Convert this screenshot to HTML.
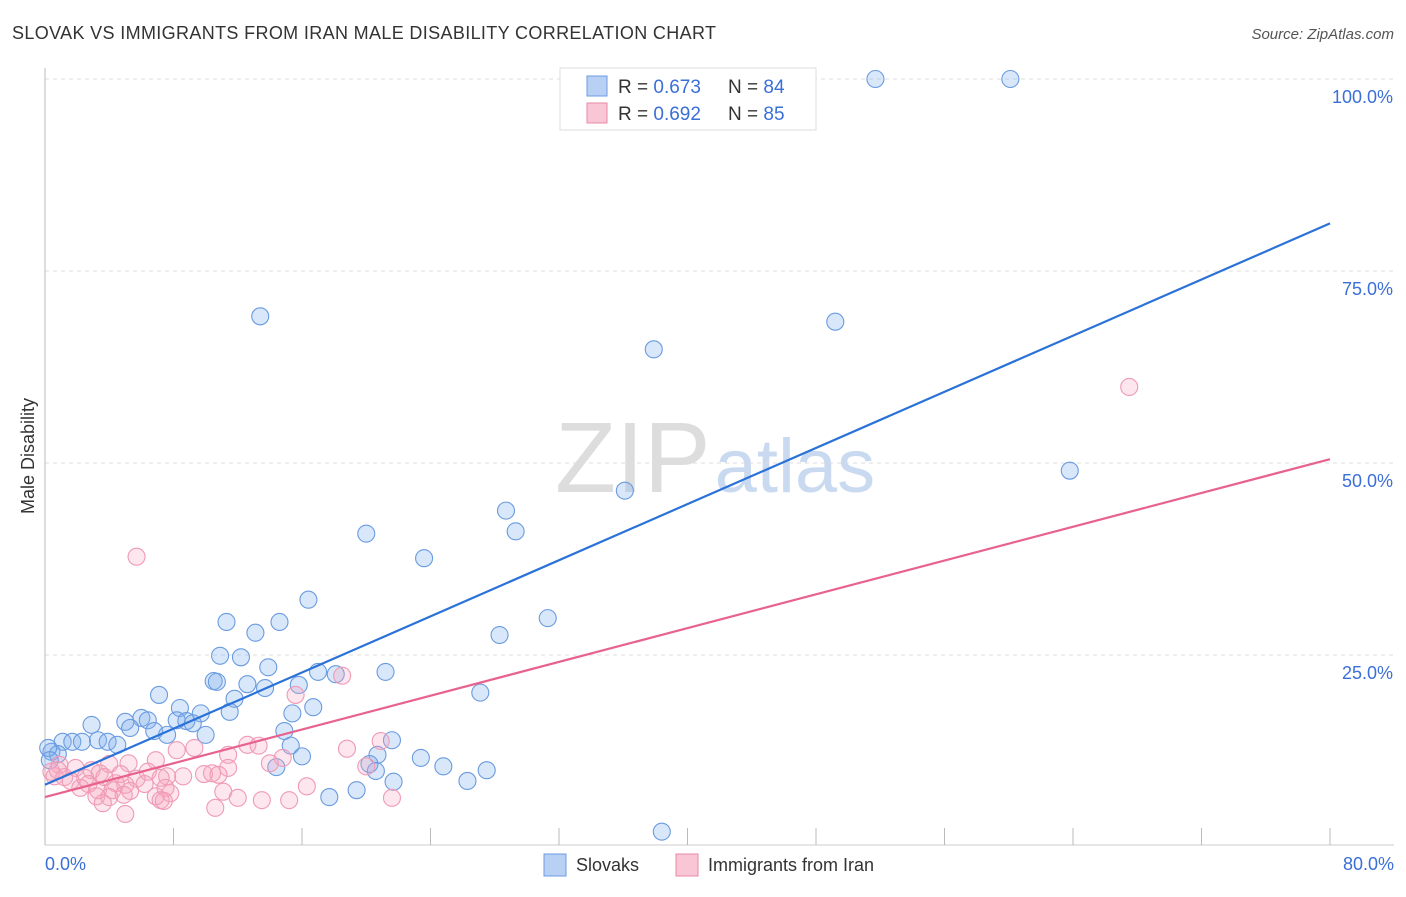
<!DOCTYPE html>
<html><head><meta charset="utf-8"><style>
body{margin:0;background:#fff;font-family:"Liberation Sans",sans-serif}
svg text{font-family:"Liberation Sans",sans-serif}
</style></head><body>
<svg id="chart" width="1406" height="892">
<text x="12" y="39" font-size="18" fill="#333" textLength="704">SLOVAK VS IMMIGRANTS FROM IRAN MALE DISABILITY CORRELATION CHART</text>
<text x="1394" y="39" font-size="15" fill="#555" font-style="italic" text-anchor="end">Source: ZipAtlas.com</text>
<text x="555" y="492" font-size="100" fill="#ddd" font-family="Liberation Serif">ZIP<tspan fill="#c9daf0" font-family="Liberation Sans" font-size="76" dx="4">atlas</tspan></text>
<g id="grid"></g>
<g id="marks"></g>
<text x="34" y="456" font-size="18" fill="#333" transform="rotate(-90 34 456)" text-anchor="middle">Male Disability</text>
<text x="45" y="870" font-size="18" fill="#3a6fd8">0.0%</text>
<text x="1394" y="870" font-size="18" fill="#3a6fd8" text-anchor="end">80.0%</text>
<g>
<rect x="560" y="68" width="256" height="62" fill="#fff" stroke="#ddd"/>
<rect x="587" y="76" width="20" height="20" fill="#b9d0f5" stroke="#6a9be0"/>
<rect x="587" y="103" width="20" height="20" fill="#f9c6d5" stroke="#e98aa8"/>
<text x="618" y="93" font-size="19" fill="#333">R = <tspan fill="#3a6fd8">0.673</tspan></text>
<text x="728" y="93" font-size="19" fill="#333">N = <tspan fill="#3a6fd8">84</tspan></text>
<text x="618" y="120" font-size="19" fill="#333">R = <tspan fill="#3a6fd8">0.692</tspan></text>
<text x="728" y="120" font-size="19" fill="#333">N = <tspan fill="#3a6fd8">85</tspan></text>
</g>
<g>
<rect x="544" y="854" width="22" height="22" fill="#b9d0f5" stroke="#6a9be0"/>
<text x="576" y="871" font-size="18" fill="#333">Slovaks</text>
<rect x="676" y="854" width="22" height="22" fill="#f9c6d5" stroke="#e98aa8"/>
<text x="708" y="871" font-size="18" fill="#333">Immigrants from Iran</text>
</g>
</svg>
<script>
const yTicks=[25,50,75,100];
const yTickLabels=["25.0%","50.0%","75.0%","100.0%"];
const xTicks=[0,8,16,24,32,40,48,56,64,72,80];
const blueX=[51.7,60.1,13.4,37.9,49.2,63.8,36.1,28.7,29.3,20.0,23.6,16.4,31.3,11.3,14.6,28.3,13.1,10.9,12.2,13.9,17.0,18.1,21.2,10.5,10.7,12.6,15.8,13.7,7.1,27.1,11.8,8.4,16.7,15.4,9.7,11.5,6.0,2.9,5.0,6.4,8.2,8.8,9.2,5.3,6.8,7.6,10.0,14.9,1.1,1.7,2.3,3.3,3.9,4.5,15.3,21.6,0.4,0.8,16.0,20.7,23.4,20.2,24.8,14.4,20.6,27.5,26.3,21.7,19.4,17.7,38.4,0.2,0.3];
const blueY=[100,100,69.1,64.8,68.4,49.0,46.4,43.8,41.1,40.8,37.6,32.2,29.8,29.3,29.3,27.6,27.9,24.9,24.7,23.4,22.8,22.5,22.8,21.6,21.5,21.2,21.1,20.7,19.8,20.1,19.3,18.1,18.2,17.4,17.4,17.6,16.8,15.9,16.3,16.5,16.5,16.4,16.1,15.5,15.1,14.6,14.6,15.1,13.7,13.7,13.7,13.9,13.7,13.3,13.2,13.9,12.4,12.1,11.8,12.0,11.6,10.8,10.5,10.4,9.9,10.0,8.6,8.5,7.4,6.5,2.0,12.9,11.3];
const pinkX=[67.5,5.7,18.5,15.6,18.8,20.9,12.6,13.3,9.3,8.2,11.4,14.8,14.0,6.9,5.2,4.0,11.4,20.0,0.9,1.9,2.9,3.4,4.7,6.4,7.6,8.6,9.9,10.4,10.8,0.4,0.6,1.2,2.5,3.7,5.7,7.2,1.6,2.7,4.4,5.0,6.2,2.2,3.3,4.2,5.3,7.5,7.8,16.3,11.1,3.2,4.0,4.9,6.9,12.0,13.5,15.2,21.6,7.2,7.4,3.6,10.6,5.0,0.8];
const pinkY=[59.9,37.8,22.3,19.8,12.8,13.8,13.3,13.2,12.9,12.6,12.0,11.6,10.9,11.3,10.9,10.8,10.3,10.5,10.7,10.3,10.0,9.6,9.5,9.8,9.2,9.2,9.5,9.6,9.4,9.8,9.2,9.1,9.0,9.1,8.9,9.0,8.6,8.2,8.3,8.1,8.2,7.7,7.4,7.4,7.3,7.7,7.0,7.9,7.2,6.6,6.5,6.8,6.6,6.4,6.1,6.1,6.4,6.1,6.0,5.7,5.1,4.3,10.0];
const blueLine=[8.1,81.2];
const pinkLine=[6.5,50.5];
const X=v=>45+v*(1330-45)/80;
const Y=v=>847-v*7.68;
const NS="http://www.w3.org/2000/svg";
const grid=document.getElementById('grid'),marks=document.getElementById('marks');
function mk(tag,attrs,parent){const e=document.createElementNS(NS,tag);for(const k in attrs)e.setAttribute(k,attrs[k]);parent.appendChild(e);return e;}
yTicks.forEach((t,i)=>{
 const l=mk('line',{x1:45,x2:1394,y1:Y(t),y2:Y(t),stroke:'#ddd','stroke-dasharray':'4 4'},grid);
 
 
 const tx=mk('text',{x:1393,y:Y(t)+24,'font-size':18,fill:'#3a6fd8','text-anchor':'end'},grid);
 tx.textContent=yTickLabels[i];
 
 
});
const ax=mk('line',{x1:45,x2:45,y1:68,y2:845,stroke:'#bbb'},grid);


const bx=mk('line',{x1:45,x2:1394,y1:845,y2:845,stroke:'#ccc'},grid);


xTicks.forEach(t=>{
 const l=mk('line',{x1:X(t),x2:X(t),y1:828,y2:845,stroke:'#bbb'},grid);
 
 
});
blueX.forEach((x,i)=>{
 const c=mk('circle',{cx:X(x),cy:Y(blueY[i]),r:8.5,fill:'rgba(130,175,240,0.3)',stroke:'#6a9be0','stroke-width':1.1},marks);
 
 
});
pinkX.forEach((x,i)=>{
 const c=mk('circle',{cx:X(x),cy:Y(pinkY[i]),r:8.5,fill:'rgba(248,165,190,0.28)',stroke:'#ef9ab6','stroke-width':1.1},marks);
 
 
});
const bl=mk('line',{x1:X(0),y1:Y(blueLine[0]),x2:X(80),y2:Y(blueLine[1]),stroke:'#2a72d8','stroke-width':2.2},marks);


const pl=mk('line',{x1:X(0),y1:Y(pinkLine[0]),x2:X(80),y2:Y(pinkLine[1]),stroke:'#e8628e','stroke-width':2.2},marks);


</script>
</body></html>
